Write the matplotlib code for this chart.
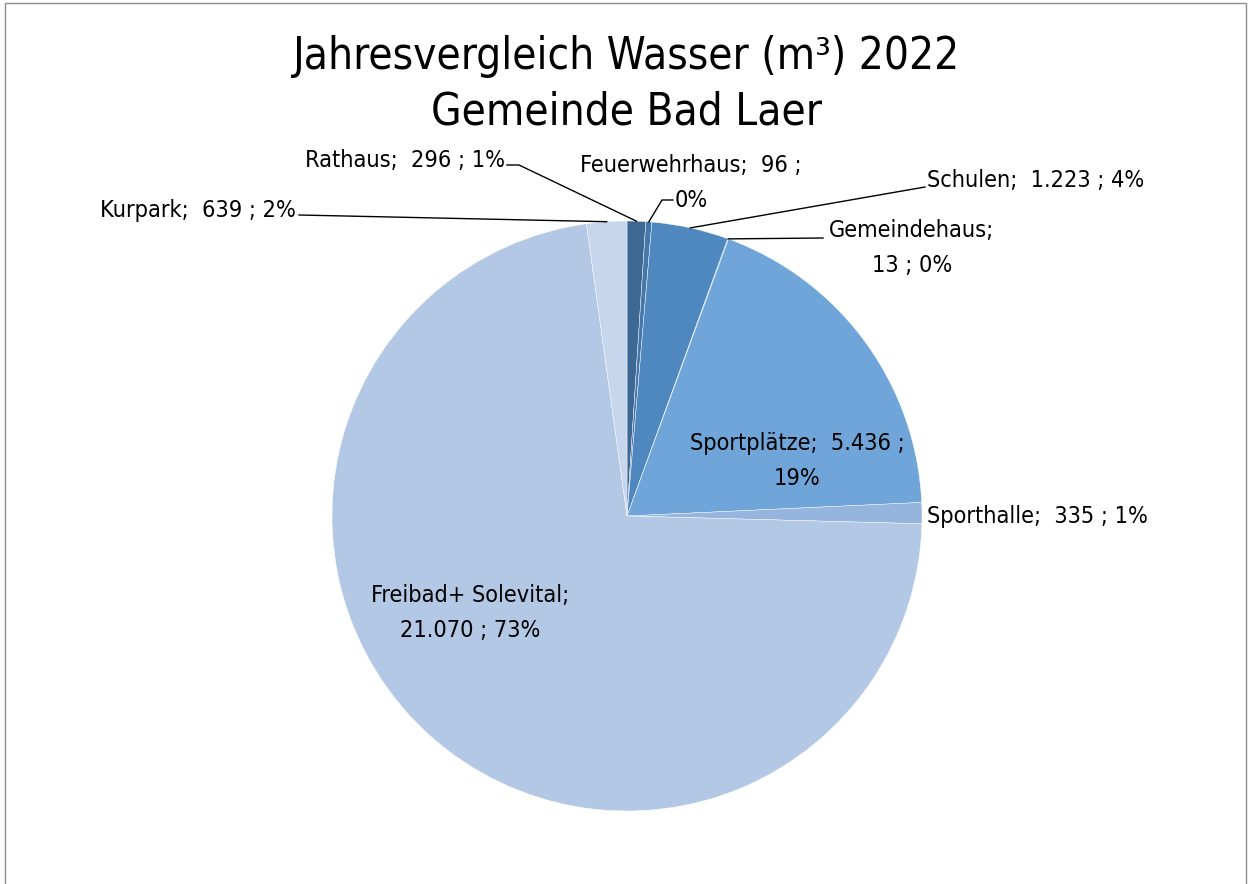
import numpy as np
import matplotlib
matplotlib.use("Agg")
from matplotlib import pyplot as plt
from matplotlib.patches import Rectangle

plt.rcParams['font.family'] = ['DejaVu Sans']
plt.rcParams['font.stretch'] = 'condensed'

# data
names = ['Rathaus', 'Feuerwehrhaus', 'Schulen', 'Gemeindehaus',
         'Sportplätze', 'Sporthalle', 'Freibad+ Solevital', 'Kurpark']
values = [296, 96, 1223, 13, 5436, 335, 21070, 639]
percents = [1, 0, 4, 0, 19, 1, 73, 2]
colors = ['#3e6894', '#4577aa', '#4f88bf', '#5a93c9',
          '#6fa5d9', '#95b5de', '#b2c8e5', '#c6d6ec']

def fmt(v):
    return f"{v:,}".replace(',', '.')

W, H = 1250, 884
fig = plt.figure(figsize=(W / 100, H / 100), dpi=100)

# pie centre / radius in pixels
cx, cy, r = 627, 516, 295
ax = fig.add_axes([(cx - r) / W, (H - cy - r) / H, 2 * r / W, 2 * r / H])
wedges, _ = ax.pie(values, colors=colors, startangle=90, counterclock=False,
                   radius=1, wedgeprops=dict(edgecolor='white', linewidth=0.3))
ax.set_xlim(-1, 1)
ax.set_ylim(-1, 1)
ax.set_aspect('equal')
ax.axis('off')

fs = 16.8
ls = 1.62

def px(x, y):
    # pixel -> data
    return (x - cx) / r, (cy - y) / r

def mid(w):
    a = np.deg2rad((w.theta1 + w.theta2) / 2)
    return np.cos(a), np.sin(a)

lab = {}
for i, n in enumerate(names):
    lab[n] = f"{n};  {fmt(values[i])} ; {percents[i]}%"

def put(text, x, y, ha, **kw):
    dx, dy = px(x, y)
    ax.text(dx, dy, text, ha=ha, va='center', fontsize=fs, clip_on=False,
            linespacing=ls, **kw)

def leader(points, w):
    pts = [px(*p) for p in points] + [mid(w)]
    xs, ys = zip(*pts)
    ax.plot(xs, ys, color='black', lw=1, clip_on=False)

put(lab['Rathaus'], 505, 160, 'right')
leader([(507, 165), (519, 165)], wedges[0])

put("Feuerwehrhaus;  96 ;\n0%", 691, 183, 'center')
leader([(673, 200), (662, 200)], wedges[1])

put(lab['Schulen'], 927, 180, 'left')
leader([(925, 187)], wedges[2])

put("Gemeindehaus;\n13 ; 0%", 912, 248, 'center')
leader([(823, 238)], wedges[3])

put(f"Sportplätze;  {fmt(values[4])} ;\n{percents[4]}%", 797, 461, 'center')

put(lab['Sporthalle'], 927, 516, 'left')

put(f"Freibad+ Solevital;\n{fmt(values[6])} ; {percents[6]}%", 470, 613, 'center')

put(lab['Kurpark'], 296, 210, 'right')
leader([(299, 215)], wedges[7])

fig.text(0.501, 1 - 84 / H, "Jahresvergleich Wasser (m³) 2022\nGemeinde Bad Laer",
         ha='center', va='center', fontsize=31.6, linespacing=1.37)

fig.patches.append(Rectangle((5 / W, -0.01), 1241 / W, 1 - 3 / H + 0.01,
                             transform=fig.transFigure, fill=False,
                             edgecolor='#8c8c8c', lw=1))

fig.savefig('out.png', dpi=100)
